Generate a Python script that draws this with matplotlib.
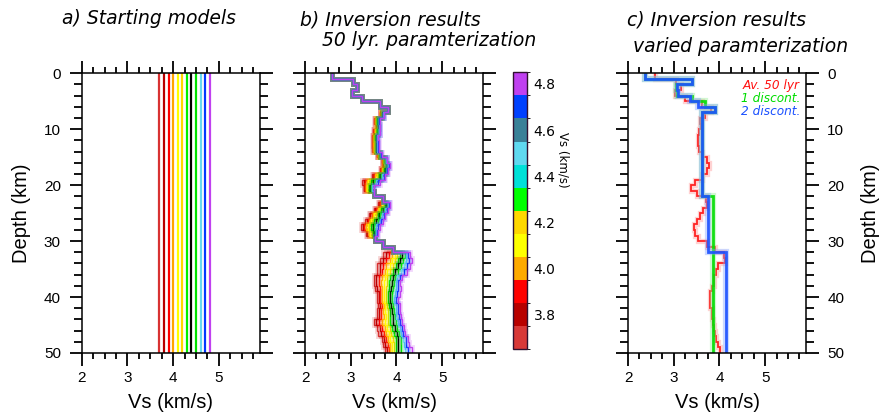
import numpy as np
import matplotlib
matplotlib.use("Agg")
import matplotlib.pyplot as plt
from matplotlib.colors import ListedColormap, BoundaryNorm
from matplotlib.cm import ScalarMappable
from matplotlib.ticker import MultipleLocator

plt.rcParams['font.family'] = ['Liberation Sans', 'DejaVu Sans']

# starting models (constant Vs), one colour each
start_vs = [3.7, 3.8, 3.9, 4.0, 4.1, 4.2, 4.3, 4.4, 4.5, 4.6, 4.7, 4.8]
line_colors = ['#d83232', '#b80000', '#ff0000', '#ffa500', '#ffff00', '#ffd700',
               '#00f000', '#000000', '#00e000', '#66d8f0', '#0038ff', '#c040f0']

# colorbar
cbar_colors = ['#d83838', '#b80000', '#ff0000', '#ffaa00', '#ffff00', '#ffd700',
               '#00ff00', '#00e0d8', '#60d8f0', '#3a8098', '#0040ff', '#c040f0']
cbar_bounds = [3.65, 3.75, 3.85, 3.95, 4.05, 4.15, 4.25, 4.35, 4.45, 4.55, 4.65, 4.75, 4.85]
cbar_ticks = [3.8, 4.0, 4.2, 4.4, 4.6, 4.8]

# layer boundaries (km), 50 layers of 1 km
depth_edges = list(range(51))

# b) inverted 50 layer models, one per starting model
vs_370 = [2.60, 3.04, 3.14, 3.02, 3.25, 3.63, 3.82, 3.63, 3.52, 3.55, 3.49, 3.46, 3.47, 3.46, 3.57, 3.68, 3.68,
          3.64, 3.46, 3.24, 3.28, 3.50, 3.71, 3.60, 3.50, 3.39, 3.31, 3.22, 3.34, 3.53, 3.71, 3.93,
          3.71, 3.64, 3.57, 3.57, 3.50, 3.50, 3.53, 3.57, 3.57, 3.60, 3.57, 3.57, 3.50, 3.57, 3.60, 3.68, 3.71, 3.75]
vs_380 = [2.60, 3.04, 3.14, 3.02, 3.25, 3.63, 3.82, 3.64, 3.53, 3.56, 3.50, 3.48, 3.48, 3.48, 3.58, 3.69, 3.70,
          3.66, 3.49, 3.28, 3.30, 3.50, 3.71, 3.62, 3.53, 3.42, 3.35, 3.26, 3.36, 3.53, 3.71, 3.93,
          3.77, 3.71, 3.64, 3.63, 3.56, 3.56, 3.58, 3.61, 3.61, 3.64, 3.62, 3.62, 3.56, 3.63, 3.66, 3.73, 3.76, 3.79]
vs_390 = [2.60, 3.04, 3.14, 3.02, 3.25, 3.63, 3.82, 3.65, 3.54, 3.56, 3.52, 3.49, 3.49, 3.50, 3.59, 3.70, 3.71,
          3.67, 3.52, 3.31, 3.32, 3.50, 3.71, 3.65, 3.56, 3.46, 3.38, 3.30, 3.39, 3.53, 3.71, 3.93,
          3.84, 3.78, 3.71, 3.69, 3.62, 3.61, 3.63, 3.65, 3.65, 3.68, 3.67, 3.67, 3.62, 3.69, 3.72, 3.78, 3.81, 3.83]
vs_400 = [2.60, 3.04, 3.14, 3.02, 3.25, 3.63, 3.82, 3.66, 3.55, 3.57, 3.53, 3.50, 3.51, 3.51, 3.60, 3.71, 3.73,
          3.69, 3.54, 3.35, 3.34, 3.50, 3.71, 3.67, 3.59, 3.49, 3.42, 3.33, 3.41, 3.53, 3.71, 3.93,
          3.90, 3.85, 3.78, 3.75, 3.68, 3.67, 3.68, 3.69, 3.69, 3.72, 3.71, 3.72, 3.68, 3.74, 3.77, 3.82, 3.85, 3.87]
vs_410 = [2.60, 3.04, 3.14, 3.02, 3.25, 3.63, 3.82, 3.66, 3.56, 3.58, 3.55, 3.52, 3.52, 3.52, 3.61, 3.72, 3.74,
          3.70, 3.57, 3.38, 3.36, 3.50, 3.71, 3.70, 3.62, 3.52, 3.45, 3.37, 3.43, 3.53, 3.71, 3.93,
          3.96, 3.91, 3.85, 3.80, 3.74, 3.73, 3.73, 3.73, 3.73, 3.76, 3.76, 3.77, 3.74, 3.80, 3.83, 3.87, 3.90, 3.91]
vs_420 = [2.60, 3.04, 3.14, 3.02, 3.25, 3.63, 3.82, 3.67, 3.57, 3.59, 3.56, 3.53, 3.53, 3.54, 3.62, 3.73, 3.76,
          3.72, 3.59, 3.42, 3.39, 3.50, 3.71, 3.72, 3.65, 3.55, 3.49, 3.41, 3.46, 3.53, 3.71, 3.93,
          4.02, 3.97, 3.92, 3.86, 3.80, 3.79, 3.78, 3.78, 3.78, 3.80, 3.81, 3.82, 3.81, 3.86, 3.89, 3.92, 3.95, 3.95]
vs_430 = [2.60, 3.04, 3.14, 3.02, 3.25, 3.63, 3.82, 3.68, 3.58, 3.60, 3.57, 3.54, 3.55, 3.55, 3.63, 3.74, 3.77,
          3.73, 3.62, 3.45, 3.41, 3.50, 3.71, 3.74, 3.67, 3.59, 3.52, 3.45, 3.48, 3.53, 3.71, 3.93,
          4.08, 4.03, 3.98, 3.92, 3.86, 3.84, 3.83, 3.82, 3.82, 3.84, 3.85, 3.87, 3.87, 3.91, 3.95, 3.98, 3.99, 4.00]
vs_440 = [2.60, 3.04, 3.14, 3.02, 3.25, 3.63, 3.82, 3.69, 3.59, 3.60, 3.59, 3.56, 3.56, 3.56, 3.64, 3.75, 3.79,
          3.75, 3.64, 3.49, 3.43, 3.50, 3.71, 3.77, 3.70, 3.62, 3.56, 3.49, 3.51, 3.53, 3.71, 3.93,
          4.13, 4.08, 4.04, 3.97, 3.93, 3.90, 3.88, 3.86, 3.86, 3.88, 3.90, 3.92, 3.93, 3.97, 4.01, 4.04, 4.04, 4.04]
vs_450 = [2.60, 3.04, 3.14, 3.02, 3.25, 3.63, 3.82, 3.70, 3.60, 3.61, 3.60, 3.57, 3.57, 3.57, 3.65, 3.76, 3.80,
          3.77, 3.67, 3.52, 3.45, 3.50, 3.71, 3.79, 3.73, 3.65, 3.59, 3.52, 3.53, 3.53, 3.71, 3.93,
          4.18, 4.14, 4.10, 4.04, 3.97, 3.94, 3.93, 3.91, 3.90, 3.93, 3.94, 3.96, 3.98, 4.02, 4.05, 4.09, 4.10, 4.11]
vs_460 = [2.60, 3.04, 3.14, 3.02, 3.25, 3.63, 3.82, 3.71, 3.61, 3.62, 3.61, 3.58, 3.58, 3.58, 3.66, 3.77, 3.82,
          3.79, 3.69, 3.56, 3.47, 3.50, 3.71, 3.82, 3.76, 3.68, 3.63, 3.56, 3.55, 3.53, 3.71, 3.93,
          4.22, 4.20, 4.17, 4.10, 4.02, 3.99, 3.98, 3.97, 3.95, 3.98, 3.99, 4.00, 4.03, 4.07, 4.10, 4.15, 4.16, 4.18]
vs_470 = [2.60, 3.04, 3.14, 3.02, 3.25, 3.63, 3.82, 3.72, 3.62, 3.63, 3.63, 3.59, 3.59, 3.60, 3.67, 3.79, 3.83,
          3.80, 3.72, 3.60, 3.50, 3.50, 3.71, 3.84, 3.79, 3.72, 3.66, 3.60, 3.58, 3.53, 3.71, 3.93,
          4.26, 4.27, 4.23, 4.17, 4.07, 4.03, 4.04, 4.02, 3.99, 4.03, 4.03, 4.05, 4.07, 4.12, 4.14, 4.20, 4.22, 4.26]
vs_480 = [2.60, 3.04, 3.14, 3.02, 3.25, 3.63, 3.82, 3.73, 3.63, 3.64, 3.64, 3.60, 3.61, 3.61, 3.68, 3.80, 3.85,
          3.82, 3.75, 3.64, 3.52, 3.50, 3.71, 3.87, 3.82, 3.75, 3.70, 3.64, 3.60, 3.53, 3.71, 3.93,
          4.30, 4.33, 4.30, 4.24, 4.12, 4.08, 4.09, 4.08, 4.04, 4.08, 4.08, 4.09, 4.12, 4.17, 4.19, 4.26, 4.28, 4.33]
models_b = [vs_370, vs_380, vs_390, vs_400, vs_410, vs_420, vs_430, vs_440, vs_450, vs_460, vs_470, vs_480]

# c) average of the 50 layer models
vs_avg = [2.60, 3.04, 3.15, 3.03, 3.25, 3.62, 3.82, 3.68, 3.57, 3.59, 3.56, 3.54, 3.54, 3.55, 3.62, 3.73, 3.77,
          3.72, 3.62, 3.46, 3.37, 3.50, 3.71, 3.73, 3.65, 3.57, 3.50, 3.44, 3.46, 3.53, 3.72, 3.90,
          4.09, 4.12, 3.97, 3.93, 3.89, 3.88, 3.83, 3.80, 3.79, 3.80, 3.83, 3.84, 3.85, 3.88, 3.91, 3.93, 3.97, 4.02]
# c) models with fewer layers
edges_1d = [0, 1, 2, 3, 4, 5, 6, 7, 22, 50]
vs_1d = [2.38, 3.40, 3.04, 3.07, 3.39, 3.68, 3.91, 3.62, 3.87]
edges_2d = [0, 1, 2, 3, 4, 5, 6, 7, 22, 32, 50]
vs_2d = [2.38, 3.40, 3.08, 3.10, 3.35, 3.53, 3.91, 3.62, 3.75, 4.14]

W, H = 880, 416
fig = plt.figure(figsize=(W / 100, H / 100), dpi=100)


def box(x0, y0, x1, y1):
    return [x0 / W, 1 - y1 / H, (x1 - x0) / W, (y1 - y0) / H]


def style(ax):
    ax.set_xlim(2, 5.9)
    ax.set_ylim(50, 0)
    ax.xaxis.set_major_locator(MultipleLocator(1))
    ax.xaxis.set_minor_locator(MultipleLocator(0.25))
    ax.yaxis.set_major_locator(MultipleLocator(10))
    ax.yaxis.set_minor_locator(MultipleLocator(2))
    ax.tick_params(which='both', direction='out', top=True, right=True, width=1.3, labelsize=11)
    ax.tick_params(which='major', length=9, pad=4)
    ax.tick_params(axis='y', which='major', pad=6)
    ax.tick_params(axis='x', which='minor', length=4.5)
    ax.tick_params(axis='y', which='minor', length=5.5)
    for s in ax.spines.values():
        s.set_linewidth(1.1)
    ax.set_xlabel('Vs (km/s)', fontsize=14.5, labelpad=6)


# a) starting models
ax1 = fig.add_axes(box(81.7, 73.3, 260, 353))
style(ax1)
ax1.vlines(start_vs, 0, 50, colors=line_colors, lw=1.6)
ax1.set_ylabel('Depth (km)', fontsize=14.5, labelpad=9)

# b) inversion results
ax2 = fig.add_axes(box(305, 73.3, 483.3, 353))
style(ax2)
ax2.tick_params(axis='y', labelleft=False)
for vs, c in zip(models_b, line_colors):
    ax2.stairs(vs, depth_edges, orientation='horizontal', baseline=None, color=c, lw=3.5, alpha=0.2)
    ax2.stairs(vs, depth_edges, orientation='horizontal', baseline=None, color=c, lw=1.0)

# colorbar
cax = fig.add_axes(box(513.3, 72.3, 526.7, 349.3))
cmap = ListedColormap(cbar_colors)
norm = BoundaryNorm(cbar_bounds, cmap.N)
cb = fig.colorbar(ScalarMappable(norm=norm, cmap=cmap), cax=cax, ticks=cbar_ticks)
cb.ax.tick_params(length=0, labelsize=10, pad=5)
for t in cb.ax.get_yticklabels():
    t.set_family('DejaVu Sans')
cb.outline.set_linewidth(1.0)
cb.outline.set_edgecolor('#301030')
fig.text(563 / W, 1 - 160 / H, 'Vs (km/s)', rotation=270, ha='center', va='center',
         fontsize=8.5, family='DejaVu Sans')

# c) varied parameterization
ax3 = fig.add_axes(box(628, 73.3, 806.3, 353))
style(ax3)
ax3.tick_params(axis='y', labelleft=False, labelright=True)
ax3.yaxis.set_label_position('right')
ax3.set_ylabel('Depth (km)', fontsize=14.5, labelpad=12, rotation=90)
for vs, ed, c, halo, lw in [(vs_avg, depth_edges, '#ff1010', '#ff9090', 1.3),
                            (vs_1d, edges_1d, '#00dd00', '#90ee90', 2.0),
                            (vs_2d, edges_2d, '#1a50ff', '#80a0ff', 2.0)]:
    ax3.stairs(vs, ed, orientation='horizontal', baseline=None, color=halo, lw=lw + 2.5, alpha=0.4)
    ax3.stairs(vs, ed, orientation='horizontal', baseline=None, color=c, lw=lw, alpha=0.9)
for txt, c, yy in [('Av. 50 lyr', '#ff1010', 0.958), ('1 discont.', '#00dd00', 0.911),
                   ('2 discont.', '#1a50ff', 0.863)]:
    ax3.text(0.965, yy, txt, color=c, transform=ax3.transAxes, ha='right', va='center',
             fontsize=8.7, style='italic', family='DejaVu Sans')

# titles
tkw = dict(fontsize=13.5, style='italic', family='DejaVu Sans', va='center', ha='left')
fig.text(62 / W, 1 - 19 / H, 'a) Starting models', **tkw)
fig.text(300 / W, 1 - 20 / H, 'b) Inversion results', **tkw)
fig.text(322 / W, 1 - 41 / H, '50 lyr. paramterization', **tkw)
fig.text(627 / W, 1 - 20 / H, 'c) Inversion results', **tkw)
fig.text(633 / W, 1 - 46 / H, 'varied paramterization', **tkw)

fig.savefig('out.png', dpi=100)
